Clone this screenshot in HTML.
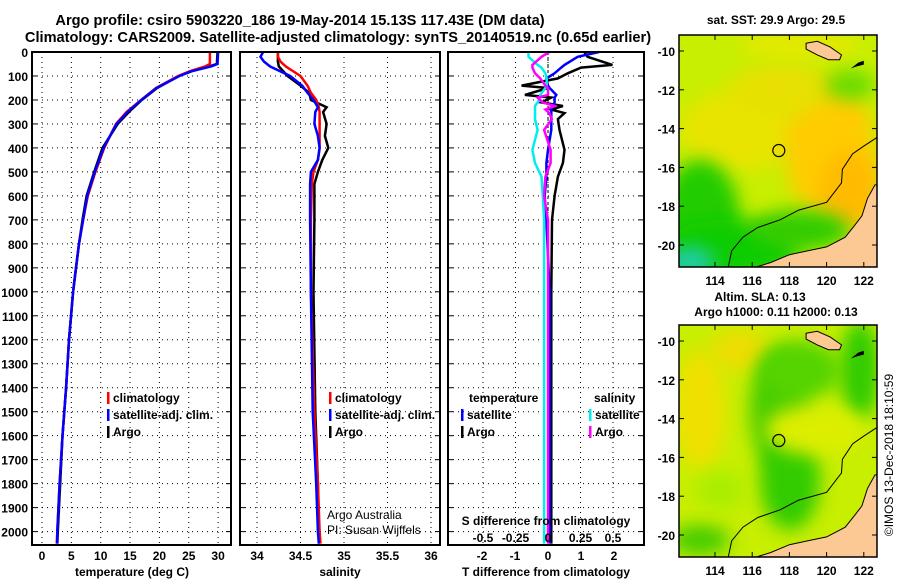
<!DOCTYPE html>
<html><head><meta charset="utf-8"><style>
html,body{margin:0;padding:0;background:#fff;}
svg{display:block;font-family:"Liberation Sans",sans-serif;}
.t{font-weight:bold;font-size:12px;fill:#000;}
.ti{font-weight:bold;font-size:14.6px;fill:#000;}
</style></head><body>
<svg id="c" width="900" height="580" viewBox="0 0 900 580">
<defs>
<filter id="bl" x="-50%" y="-50%" width="200%" height="200%"><feGaussianBlur stdDeviation="9"/></filter>
<clipPath id="m1"><rect x="679" y="35" width="198" height="232"/></clipPath>
<clipPath id="m2"><rect x="679" y="325" width="198" height="232"/></clipPath>
</defs>
<text class="ti" x="300" y="25" text-anchor="middle">Argo profile: csiro 5903220_186 19-May-2014 15.13S 117.43E (DM data)</text>
<text class="ti" x="338" y="42" text-anchor="middle">Climatology: CARS2009. Satellite-adjusted climatology: synTS_20140519.nc (0.65d earlier)</text>
<g id="g"></g>
</svg>
<script>
// ---- data: depth profiles ----
const tDepth = [0,50,60,80,100,150,200,250,300,400,500,600,700,800,900,1000,1200,1400,1600,1800,2000,2050];
const tArgo  = [29.9,29.8,28.5,25.5,23.3,19.6,17.0,14.8,12.9,10.3,8.9,7.6,6.9,6.3,5.8,5.3,4.6,4.1,3.5,3.1,2.7,2.6];
const tClim  = [28.6,28.6,27.8,25.2,23.2,19.4,16.9,14.4,12.6,10.6,9.1,7.8,7.0,6.3,5.8,5.3,4.6,4.1,3.5,3.0,2.6,2.5];
const tSat   = [30.0,29.9,28.8,25.5,23.4,19.5,16.9,14.6,12.7,10.5,9.0,7.7,7.0,6.3,5.8,5.3,4.6,4.1,3.5,3.0,2.6,2.6];
const sDepth = [0,20,40,60,100,140,170,200,230,250,300,350,400,450,500,550,700,1000,1500,1800,2000,2050];
const sArgo  = [34.24,34.24,34.24,34.25,34.35,34.50,34.60,34.62,34.80,34.76,34.80,34.78,34.82,34.75,34.70,34.66,34.66,34.65,34.67,34.70,34.71,34.71];
const sClim  = [34.24,34.24,34.27,34.33,34.50,34.58,34.62,34.68,34.71,34.72,34.72,34.72,34.72,34.70,34.65,34.63,34.62,34.62,34.66,34.70,34.72,34.73];
const sSat   = [34.07,34.04,34.08,34.15,34.38,34.52,34.58,34.65,34.70,34.67,34.66,34.70,34.72,34.70,34.62,34.61,34.61,34.62,34.64,34.68,34.70,34.71];
const dDepth = [0,20,54,65,89,110,140,150,179,190,210,225,240,255,280,325,408,463,520,600,700,1000,1500,2000,2050];
const dTArgo = [1.1,1.2,1.95,1.0,0.6,0.3,-0.8,0.0,-0.7,0.1,-0.2,0.45,0.1,0.5,0.3,0.35,0.5,0.45,0.3,0.2,0.12,0.1,0.1,0.1,0.1];
const dTSat  = [1.55,0.9,0.5,0.4,0.2,-0.05,0.0,0.05,0.25,0.2,0.2,0.15,0.1,0.1,0.1,0.1,0.0,-0.05,-0.05,-0.1,-0.05,0.05,0.05,0.05,0.05];
const dSArgo = [0.01,-0.05,-0.12,-0.12,-0.1,-0.06,-0.02,0.0,0.0,-0.08,-0.04,0.05,-0.02,0.01,0.03,-0.03,0.02,0.02,-0.02,-0.03,0.0,0.0,0.0,0.0,0.0];
const dSSat  = [-0.15,-0.15,-0.08,-0.05,-0.02,-0.01,-0.01,-0.02,-0.06,-0.06,-0.08,-0.1,-0.1,-0.1,-0.1,-0.08,-0.12,-0.1,-0.05,-0.04,-0.03,-0.03,-0.03,-0.03,-0.03];
const depthTicks = [0,100,200,300,400,500,600,700,800,900,1000,1100,1200,1300,1400,1500,1600,1700,1800,1900,2000];
const tTicks = [0,5,10,15,20,25,30];
const sTicks = [34,34.5,35,35.5,36];
const sTickLabels = ["34","34.5","35","35.5","36"];
const dTTicks = [-2,-1,0,1,2];
const dSTicks = [-0.5,-0.25,0,0.25,0.5];
const dSTickLabels = ["-0.5","-0.25","0","0.25","0.5"];
const lonTicks = [114,116,118,120,122];
const latTicks = [-10,-12,-14,-16,-18,-20];
const argoLon = 117.43, argoLat = -15.13;

const NS="http://www.w3.org/2000/svg";
const G=document.getElementById('g');
function el(tag,attrs,parent){const e=document.createElementNS(NS,tag);for(const k in attrs)e.setAttribute(k,attrs[k]);(parent||G).appendChild(e);return e;}
function txt(x,y,s,anchor,cls){const e=el('text',{x:x,y:y,'text-anchor':anchor||'middle','class':cls||'t'});e.textContent=s;return e;}

const Y0=52, Y1=545;
const yD = d => Y0 + d*0.2398;
const xT = t => 42 + t*5.87;
const xS = s => 257 + (s-34)*87;
const xDT = t => 548 + t*33;
const xDS = s => 548 + s*130;
const panels=[[32,231],[240,440],[448,644]];

function vgrid(x,name){const l=el('line',{x1:x,x2:x,y1:Y0,y2:Y1,stroke:'#000','stroke-width':1,'stroke-dasharray':'1,4'});

}
panels.forEach((p,i)=>{
 depthTicks.forEach(d=>{const l=el('line',{x1:p[0],x2:p[1],y1:yD(d),y2:yD(d),stroke:'#000','stroke-width':1,'stroke-dasharray':'1,4'});
  
  
  el('line',{x1:p[0],x2:p[0]+5,y1:yD(d),y2:yD(d),stroke:'#000'});
  el('line',{x1:p[1]-5,x2:p[1],y1:yD(d),y2:yD(d),stroke:'#000'});});
});
tTicks.forEach(t=>vgrid(xT(t),'temperature-gridline'));
sTicks.forEach(s=>vgrid(xS(s),'salinity-gridline'));
dSTicks.forEach(s=>vgrid(xDS(s),'difference-gridline'));
const zl=el('line',{x1:xDT(0),x2:xDT(0),y1:Y0,y2:Y1,stroke:'#000','stroke-width':1,'stroke-dasharray':'3,3'});



function line(xs,ds,fx,color,name,w){
 const pts=xs.map((v,i)=>fx(v).toFixed(1)+','+yD(ds[i]).toFixed(1)).join(' ');
 const p=el('polyline',{points:pts,fill:'none',stroke:color,'stroke-width':w||2.5,'stroke-linejoin':'miter'});
 
 }
line(tArgo,tDepth,xT,'#000','temperature-argo-line');
line(tClim,tDepth,xT,'#f00','temperature-climatology-line');
line(tSat,tDepth,xT,'#00f','temperature-satellite-line');
line(sArgo,sDepth,xS,'#000','salinity-argo-line');
line(sClim,sDepth,xS,'#f00','salinity-climatology-line');
line(sSat,sDepth,xS,'#00f','salinity-satellite-line');
line(dTArgo,dDepth,xDT,'#000','tdiff-argo-line');
line(dTSat,dDepth,xDT,'#00f','tdiff-satellite-line');
line(dSSat,dDepth,xDS,'#0ee','sdiff-satellite-line');
line(dSArgo,dDepth,xDS,'#f0f','sdiff-argo-line');

panels.forEach((p,i)=>{const r=el('rect',{x:p[0],y:Y0,width:p[1]-p[0],height:Y1-Y0,fill:'none',stroke:'#000','stroke-width':2});
 
 });

depthTicks.forEach(d=>{const e=txt(28,yD(d)+5,String(d),'end');
 
 });
tTicks.forEach(t=>{const e=txt(xT(t),560,String(t));
 
 });
sTicks.forEach((s,i)=>{const e=txt(xS(s),560,sTickLabels[i]);
 
 });
dTTicks.forEach(t=>{const e=txt(xDT(t),560,String(t));
 
 });
dSTicks.forEach((s,i)=>{const e=txt(xDS(s),542,dSTickLabels[i]);
 
 });
let a;
a=txt(132,576,'temperature (deg C)');
a=txt(340,576,'salinity');
a=txt(546,576,'T difference from climatology');
a=txt(546,525,'S difference from climatology');
a=txt(327,519,'Argo Australia','start');a.setAttribute('class','');a.setAttribute('font-size','12');
a=txt(327,534,'PI: Susan Wijffels','start');a.setAttribute('class','');a.setAttribute('font-size','12');

function leg(x,y,color,label){
 const m=el('rect',{x:x,y:y-10,width:2.5,height:12,fill:color});
 
 
 const e=txt(x+6,y,label,'start');
 
 }
leg(107,402,'#f00','climatology');leg(107,419,'#00f','satellite-adj. clim.');leg(107,436,'#000','Argo');
leg(329,402,'#f00','climatology');leg(329,419,'#00f','satellite-adj. clim.');leg(329,436,'#000','Argo');
a=txt(469,402,'temperature','start');
a=txt(594,402,'salinity','start');
leg(461,419,'#00f','satellite');leg(461,436,'#000','Argo');
leg(589,419,'#0ee','satellite');leg(589,436,'#f0f','Argo');

// maps
const mx = lon => 715 + (lon-114)*18.6;
const my = (lat,oy) => 51 + (-lat-10)*19.4 + oy;
const coast=[[116,-21.2],[117,-20.9],[118,-20.5],[119,-20.3],[120,-20.1],[121,-19.6],[121.5,-19.0],[121.9,-18.5],[122.2,-17.6],[122.6,-16.9],[123,-16.9],[123,-21.2]];
const island=[[118.9,-9.6],[119.5,-9.5],[120.2,-9.8],[120.8,-10.2],[120.7,-10.45],[120.1,-10.45],[119.5,-10.2],[118.9,-9.9]];
const island2=[[121.3,-10.9],[121.7,-10.6],[122,-10.5],[122,-10.7],[121.6,-10.8]];
const contour=[[114.7,-21.2],[114.9,-20.3],[115.5,-19.6],[116.3,-19.1],[117.5,-18.7],[118.5,-18.2],[120,-17.8],[120.8,-16.8],[120.85,-16.1],[121.4,-15.3],[122,-14.9],[122.8,-14.4]];
function mpts(arr,oy){return arr.map(p=>mx(p[0]).toFixed(1)+','+my(p[1],oy).toFixed(1)).join(' ');}
function blob(g,cx,cy,rx,ry,c){el('ellipse',{cx:cx,cy:cy,rx:rx,ry:ry,fill:c,filter:'url(#bl)'},g);}
function map(oy,clip,name,blobs){
 const g=el('g',{'clip-path':'url(#'+clip+')'});
 
 
 el('rect',{x:679,y:35+oy,width:198,height:232,fill:'#c8ee00'},g);
 blobs.forEach(b=>blob(g,b[0],b[1]+oy,b[2],b[3],b[4]));
 el('polygon',{points:mpts(coast,oy),fill:'#fcc994',stroke:'#000','stroke-width':1},g);
 el('polygon',{points:mpts(island,oy),fill:'#fcc994',stroke:'#000','stroke-width':1},g);
 el('polygon',{points:mpts(island2,oy),fill:'#000'},g);
 el('polyline',{points:mpts(contour,oy),fill:'none',stroke:'#000','stroke-width':1},g);
 const c=el('circle',{cx:mx(argoLon),cy:my(argoLat,oy),r:6,fill:'none',stroke:'#000','stroke-width':1.2});
 
 
 const f=el('rect',{x:679,y:35+oy,width:198,height:232,fill:'none',stroke:'#000','stroke-width':1.5});
 
 
 lonTicks.forEach(l=>{el('line',{x1:mx(l),x2:mx(l),y1:35+oy,y2:40+oy,stroke:'#000'});el('line',{x1:mx(l),x2:mx(l),y1:262+oy,y2:267+oy,stroke:'#000'});
  const e=txt(mx(l),285+oy,String(l));
  
  });
 latTicks.forEach(l=>{el('line',{x1:679,x2:684,y1:my(l,oy),y2:my(l,oy),stroke:'#000'});el('line',{x1:872,x2:877,y1:my(l,oy),y2:my(l,oy),stroke:'#000'});
  const e=txt(675,my(l,oy)+5,String(l),'end');
  
  });
}
map(0,'m1','sst-map',[
 [740,130,60,40,'#e8e400'],[830,150,45,70,'#ffcc00'],[850,190,30,40,'#ffbb00'],[780,90,50,25,'#e8e000'],
 [700,220,40,60,'#22cc00'],[730,250,70,30,'#11cc00'],[800,230,50,20,'#33cc00'],[690,262,25,15,'#22ccaa'],[800,45,60,12,'#e8e800'],[850,85,25,15,'#66dd00']]);
map(290,'m2','sla-map',[
 [700,120,25,60,'#f0e000'],[740,60,30,20,'#eedd00'],[780,120,30,60,'#44cc00'],[800,80,40,30,'#55d400'],
 [790,190,30,50,'#33cc00'],[860,80,20,50,'#33cc00'],[815,140,50,25,'#ddee00'],[700,250,30,15,'#44cc00'],[720,200,25,20,'#aaee00']]);
a=txt(776,24,'sat. SST: 29.9 Argo: 29.5');
a=txt(760,301,'Altim. SLA: 0.13');
a=txt(776,316,'Argo h1000: 0.11 h2000: 0.13');
a=el('text',{x:0,y:0,'font-size':12,transform:'translate(893,455) rotate(-90)','text-anchor':'middle'});
a.textContent='©IMOS 13-Dec-2018 18:10:59';


</script>
</body></html>
